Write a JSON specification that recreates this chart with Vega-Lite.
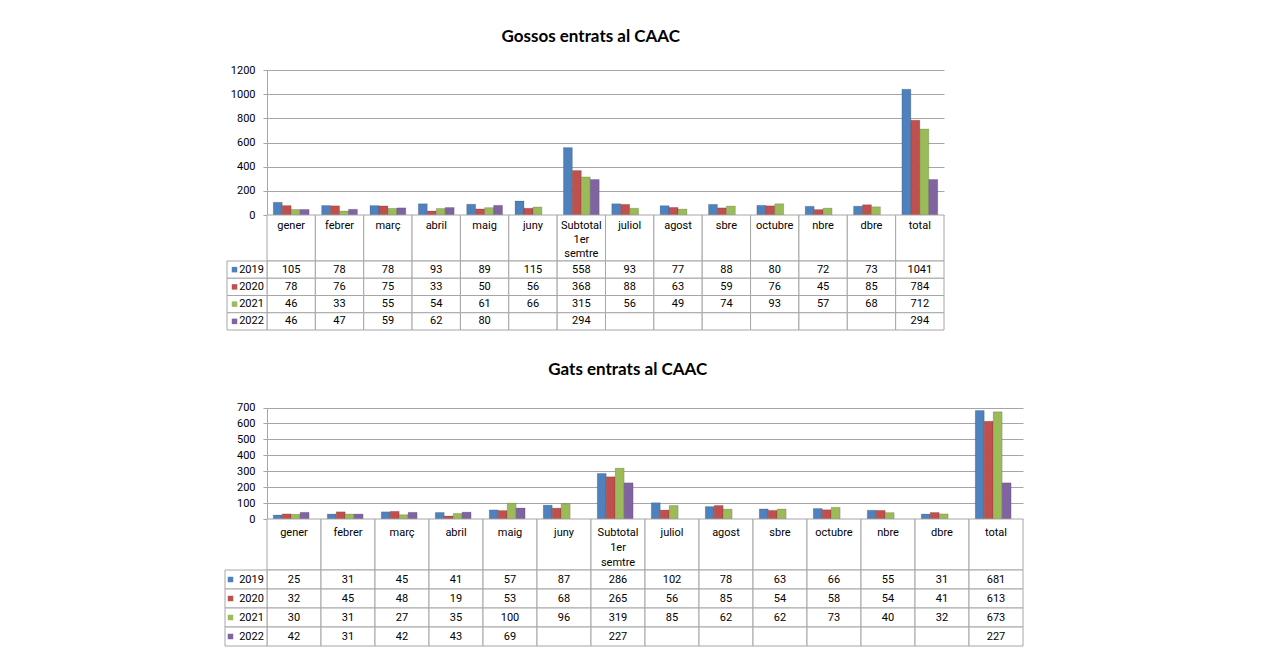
{
  "$schema": "https://vega.github.io/schema/vega-lite/v6.json",
  "background": "white",
  "padding": {"left": 224, "top": 28, "right": 0, "bottom": 0},
  "spacing": 30,
  "config": {"font": "Roboto", "view": {"stroke": null}},
  "datasets": {
    "dogs": [
      {"mes": "gener", "any": "2019", "n": 105}, {"mes": "gener", "any": "2020", "n": 78}, {"mes": "gener", "any": "2021", "n": 46}, {"mes": "gener", "any": "2022", "n": 46},
      {"mes": "febrer", "any": "2019", "n": 78}, {"mes": "febrer", "any": "2020", "n": 76}, {"mes": "febrer", "any": "2021", "n": 33}, {"mes": "febrer", "any": "2022", "n": 47},
      {"mes": "març", "any": "2019", "n": 78}, {"mes": "març", "any": "2020", "n": 75}, {"mes": "març", "any": "2021", "n": 55}, {"mes": "març", "any": "2022", "n": 59},
      {"mes": "abril", "any": "2019", "n": 93}, {"mes": "abril", "any": "2020", "n": 33}, {"mes": "abril", "any": "2021", "n": 54}, {"mes": "abril", "any": "2022", "n": 62},
      {"mes": "maig", "any": "2019", "n": 89}, {"mes": "maig", "any": "2020", "n": 50}, {"mes": "maig", "any": "2021", "n": 61}, {"mes": "maig", "any": "2022", "n": 80},
      {"mes": "juny", "any": "2019", "n": 115}, {"mes": "juny", "any": "2020", "n": 56}, {"mes": "juny", "any": "2021", "n": 66}, {"mes": "juny", "any": "2022", "n": null},
      {"mes": "Subtotal 1er semtre", "any": "2019", "n": 558}, {"mes": "Subtotal 1er semtre", "any": "2020", "n": 368}, {"mes": "Subtotal 1er semtre", "any": "2021", "n": 315}, {"mes": "Subtotal 1er semtre", "any": "2022", "n": 294},
      {"mes": "juliol", "any": "2019", "n": 93}, {"mes": "juliol", "any": "2020", "n": 88}, {"mes": "juliol", "any": "2021", "n": 56}, {"mes": "juliol", "any": "2022", "n": null},
      {"mes": "agost", "any": "2019", "n": 77}, {"mes": "agost", "any": "2020", "n": 63}, {"mes": "agost", "any": "2021", "n": 49}, {"mes": "agost", "any": "2022", "n": null},
      {"mes": "sbre", "any": "2019", "n": 88}, {"mes": "sbre", "any": "2020", "n": 59}, {"mes": "sbre", "any": "2021", "n": 74}, {"mes": "sbre", "any": "2022", "n": null},
      {"mes": "octubre", "any": "2019", "n": 80}, {"mes": "octubre", "any": "2020", "n": 76}, {"mes": "octubre", "any": "2021", "n": 93}, {"mes": "octubre", "any": "2022", "n": null},
      {"mes": "nbre", "any": "2019", "n": 72}, {"mes": "nbre", "any": "2020", "n": 45}, {"mes": "nbre", "any": "2021", "n": 57}, {"mes": "nbre", "any": "2022", "n": null},
      {"mes": "dbre", "any": "2019", "n": 73}, {"mes": "dbre", "any": "2020", "n": 85}, {"mes": "dbre", "any": "2021", "n": 68}, {"mes": "dbre", "any": "2022", "n": null},
      {"mes": "total", "any": "2019", "n": 1041}, {"mes": "total", "any": "2020", "n": 784}, {"mes": "total", "any": "2021", "n": 712}, {"mes": "total", "any": "2022", "n": 294}
    ],
    "cats": [
      {"mes": "gener", "any": "2019", "n": 25}, {"mes": "gener", "any": "2020", "n": 32}, {"mes": "gener", "any": "2021", "n": 30}, {"mes": "gener", "any": "2022", "n": 42},
      {"mes": "febrer", "any": "2019", "n": 31}, {"mes": "febrer", "any": "2020", "n": 45}, {"mes": "febrer", "any": "2021", "n": 31}, {"mes": "febrer", "any": "2022", "n": 31},
      {"mes": "març", "any": "2019", "n": 45}, {"mes": "març", "any": "2020", "n": 48}, {"mes": "març", "any": "2021", "n": 27}, {"mes": "març", "any": "2022", "n": 42},
      {"mes": "abril", "any": "2019", "n": 41}, {"mes": "abril", "any": "2020", "n": 19}, {"mes": "abril", "any": "2021", "n": 35}, {"mes": "abril", "any": "2022", "n": 43},
      {"mes": "maig", "any": "2019", "n": 57}, {"mes": "maig", "any": "2020", "n": 53}, {"mes": "maig", "any": "2021", "n": 100}, {"mes": "maig", "any": "2022", "n": 69},
      {"mes": "juny", "any": "2019", "n": 87}, {"mes": "juny", "any": "2020", "n": 68}, {"mes": "juny", "any": "2021", "n": 96}, {"mes": "juny", "any": "2022", "n": null},
      {"mes": "Subtotal 1er semtre", "any": "2019", "n": 286}, {"mes": "Subtotal 1er semtre", "any": "2020", "n": 265}, {"mes": "Subtotal 1er semtre", "any": "2021", "n": 319}, {"mes": "Subtotal 1er semtre", "any": "2022", "n": 227},
      {"mes": "juliol", "any": "2019", "n": 102}, {"mes": "juliol", "any": "2020", "n": 56}, {"mes": "juliol", "any": "2021", "n": 85}, {"mes": "juliol", "any": "2022", "n": null},
      {"mes": "agost", "any": "2019", "n": 78}, {"mes": "agost", "any": "2020", "n": 85}, {"mes": "agost", "any": "2021", "n": 62}, {"mes": "agost", "any": "2022", "n": null},
      {"mes": "sbre", "any": "2019", "n": 63}, {"mes": "sbre", "any": "2020", "n": 54}, {"mes": "sbre", "any": "2021", "n": 62}, {"mes": "sbre", "any": "2022", "n": null},
      {"mes": "octubre", "any": "2019", "n": 66}, {"mes": "octubre", "any": "2020", "n": 58}, {"mes": "octubre", "any": "2021", "n": 73}, {"mes": "octubre", "any": "2022", "n": null},
      {"mes": "nbre", "any": "2019", "n": 55}, {"mes": "nbre", "any": "2020", "n": 54}, {"mes": "nbre", "any": "2021", "n": 40}, {"mes": "nbre", "any": "2022", "n": null},
      {"mes": "dbre", "any": "2019", "n": 31}, {"mes": "dbre", "any": "2020", "n": 41}, {"mes": "dbre", "any": "2021", "n": 32}, {"mes": "dbre", "any": "2022", "n": null},
      {"mes": "total", "any": "2019", "n": 681}, {"mes": "total", "any": "2020", "n": 613}, {"mes": "total", "any": "2021", "n": 673}, {"mes": "total", "any": "2022", "n": 227}
    ]
  },
  "vconcat": [
    {
      "title": {"text": "Gossos entrats al CAAC", "frame": "bounds", "anchor": "middle", "offset": 18, "font": "Lato", "fontSize": 17, "fontWeight": "bold", "color": "#000"},
      "width": 688,
      "height": 265,
      "data": {"name": "dogs"},
      "resolve": {"scale": {"x": "independent", "y": "independent"}},
      "layer": [
        {
          "transform": [{"filter": "datum.n != null"}],
          "mark": {"type": "bar", "stroke": "#00000030", "strokeWidth": 0.8},
          "encoding": {
            "x": {"field": "mes", "type": "nominal", "scale": {"type": "band", "domain": ["gener","febrer","març","abril","maig","juny","Subtotal 1er semtre","juliol","agost","sbre","octubre","nbre","dbre","total"], "range": [0, 677], "paddingInner": 0, "paddingOuter": 0}, "axis": null},
            "xOffset": {"field": "any", "type": "nominal", "scale": {"domain": ["2019","2020","2021","2022"], "paddingInner": 0, "paddingOuter": 0.7}},
            "y": {"field": "n", "type": "quantitative", "scale": {"domain": [0, 1200], "range": [150, 5], "nice": false}, "axis": {"values": [0,200,400,600,800,1000,1200], "format": "d", "title": null, "grid": true, "gridColor": "#a6a6a6", "domainColor": "#a6a6a6", "tickColor": "#a6a6a6", "tickSize": 4, "labelPadding": 8, "labelFont": "Roboto", "labelFontSize": 11, "labelColor": "#000"}},
            "color": {"field": "any", "type": "nominal", "scale": {"domain": ["2019","2020","2021","2022"], "range": ["#4F81BD","#C0504D","#9BBB59","#8064A2"]}, "legend": null}
          }
        },
        {
          "transform": [{"filter": "datum.any == '2019'"}],
          "mark": {"type": "rect", "fill": "white", "stroke": "#a6a6a6", "strokeWidth": 1},
          "encoding": {
            "x": {"field": "mes", "type": "nominal", "scale": {"type": "band", "domain": ["gener","febrer","març","abril","maig","juny","Subtotal 1er semtre","juliol","agost","sbre","octubre","nbre","dbre","total"], "range": [0, 677], "paddingInner": 0, "paddingOuter": 0}, "axis": null},
            "y": {"datum": "h", "type": "nominal", "scale": {"type": "band", "domain": ["h"], "range": [150, 196], "paddingInner": 0, "paddingOuter": 0}, "axis": null}
          }
        },
        {
          "transform": [{"filter": "datum.any == '2019'"}],
          "mark": {"type": "text", "baseline": "top", "lineBreak": " ", "lineHeight": 14, "fontSize": 11, "color": "#000"},
          "encoding": {
            "x": {"field": "mes", "type": "nominal", "scale": {"type": "band", "domain": ["gener","febrer","març","abril","maig","juny","Subtotal 1er semtre","juliol","agost","sbre","octubre","nbre","dbre","total"], "range": [0, 677], "paddingInner": 0, "paddingOuter": 0}, "axis": null},
            "y": {"datum": "h", "type": "nominal", "scale": {"type": "band", "domain": ["h"], "range": [152, 158], "paddingInner": 0, "paddingOuter": 0}, "axis": null},
            "text": {"field": "mes", "type": "nominal"}
          }
        },
        {
          "mark": {"type": "rect", "fill": "white", "stroke": "#a6a6a6", "strokeWidth": 1},
          "encoding": {
            "x": {"field": "mes", "type": "nominal", "scale": {"type": "band", "domain": ["gener","febrer","març","abril","maig","juny","Subtotal 1er semtre","juliol","agost","sbre","octubre","nbre","dbre","total"], "range": [0, 677], "paddingInner": 0, "paddingOuter": 0}, "axis": null},
            "y": {"field": "any", "type": "nominal", "scale": {"type": "band", "domain": ["2019","2020","2021","2022"], "range": [196, 265], "paddingInner": 0, "paddingOuter": 0}, "axis": null}
          }
        },
        {
          "transform": [{"filter": "datum.n != null"}],
          "mark": {"type": "text", "baseline": "middle", "fontSize": 11, "color": "#000"},
          "encoding": {
            "x": {"field": "mes", "type": "nominal", "scale": {"type": "band", "domain": ["gener","febrer","març","abril","maig","juny","Subtotal 1er semtre","juliol","agost","sbre","octubre","nbre","dbre","total"], "range": [0, 677], "paddingInner": 0, "paddingOuter": 0}, "axis": null},
            "y": {"field": "any", "type": "nominal", "scale": {"type": "band", "domain": ["2019","2020","2021","2022"], "range": [196, 265], "paddingInner": 0, "paddingOuter": 0}, "axis": null},
            "text": {"field": "n", "type": "quantitative", "format": "d"}
          }
        },
        {
          "transform": [{"filter": "datum.mes == 'gener'"}],
          "mark": {"type": "rect", "fill": "white", "stroke": "#a6a6a6", "strokeWidth": 1},
          "encoding": {
            "x": {"datum": "h", "type": "nominal", "scale": {"type": "band", "domain": ["h"], "range": [-40, 0], "paddingInner": 0, "paddingOuter": 0}, "axis": null},
            "y": {"field": "any", "type": "nominal", "scale": {"type": "band", "domain": ["2019","2020","2021","2022"], "range": [196, 265], "paddingInner": 0, "paddingOuter": 0}, "axis": null}
          }
        },
        {
          "transform": [{"filter": "datum.mes == 'gener'"}],
          "mark": {"type": "text", "baseline": "middle", "fontSize": 11, "color": "#000"},
          "encoding": {
            "x": {"datum": "h", "type": "nominal", "scale": {"type": "band", "domain": ["h"], "range": [-18, -13], "paddingInner": 0, "paddingOuter": 0}, "axis": null},
            "y": {"field": "any", "type": "nominal", "scale": {"type": "band", "domain": ["2019","2020","2021","2022"], "range": [196, 265], "paddingInner": 0, "paddingOuter": 0}, "axis": null},
            "text": {"field": "any", "type": "nominal"}
          }
        },
        {
          "transform": [{"filter": "datum.mes == 'gener'"}],
          "mark": {"type": "point", "shape": "square", "filled": true, "size": 30, "opacity": 1},
          "encoding": {
            "x": {"datum": "h", "type": "nominal", "scale": {"type": "band", "domain": ["h"], "range": [-35, -30], "paddingInner": 0, "paddingOuter": 0}, "axis": null},
            "y": {"field": "any", "type": "nominal", "scale": {"type": "band", "domain": ["2019","2020","2021","2022"], "range": [196, 265], "paddingInner": 0, "paddingOuter": 0}, "axis": null},
            "color": {"field": "any", "type": "nominal", "legend": null}
          }
        }
      ]
    },
    {
      "title": {"text": "Gats entrats al CAAC", "frame": "bounds", "anchor": "middle", "offset": 21, "font": "Lato", "fontSize": 17, "fontWeight": "bold", "color": "#000"},
      "width": 764,
      "height": 246,
      "data": {"name": "cats"},
      "resolve": {"scale": {"x": "independent", "y": "independent"}},
      "layer": [
        {
          "transform": [{"filter": "datum.n != null"}],
          "mark": {"type": "bar", "stroke": "#00000030", "strokeWidth": 0.8},
          "encoding": {
            "x": {"field": "mes", "type": "nominal", "scale": {"type": "band", "domain": ["gener","febrer","març","abril","maig","juny","Subtotal 1er semtre","juliol","agost","sbre","octubre","nbre","dbre","total"], "range": [0, 756], "paddingInner": 0, "paddingOuter": 0}, "axis": null},
            "xOffset": {"field": "any", "type": "nominal", "scale": {"domain": ["2019","2020","2021","2022"], "paddingInner": 0, "paddingOuter": 0.7}},
            "y": {"field": "n", "type": "quantitative", "scale": {"domain": [0, 700], "range": [119, 7.5], "nice": false}, "axis": {"values": [0,100,200,300,400,500,600,700], "format": "d", "title": null, "grid": true, "gridColor": "#a6a6a6", "domainColor": "#a6a6a6", "tickColor": "#a6a6a6", "tickSize": 4, "labelPadding": 8, "labelFont": "Roboto", "labelFontSize": 11, "labelColor": "#000"}},
            "color": {"field": "any", "type": "nominal", "scale": {"domain": ["2019","2020","2021","2022"], "range": ["#4F81BD","#C0504D","#9BBB59","#8064A2"]}, "legend": null}
          }
        },
        {
          "transform": [{"filter": "datum.any == '2019'"}],
          "mark": {"type": "rect", "fill": "white", "stroke": "#a6a6a6", "strokeWidth": 1},
          "encoding": {
            "x": {"field": "mes", "type": "nominal", "scale": {"type": "band", "domain": ["gener","febrer","març","abril","maig","juny","Subtotal 1er semtre","juliol","agost","sbre","octubre","nbre","dbre","total"], "range": [0, 756], "paddingInner": 0, "paddingOuter": 0}, "axis": null},
            "y": {"datum": "h", "type": "nominal", "scale": {"type": "band", "domain": ["h"], "range": [119, 170], "paddingInner": 0, "paddingOuter": 0}, "axis": null}
          }
        },
        {
          "transform": [{"filter": "datum.any == '2019'"}],
          "mark": {"type": "text", "baseline": "top", "lineBreak": " ", "lineHeight": 15, "fontSize": 11, "color": "#000"},
          "encoding": {
            "x": {"field": "mes", "type": "nominal", "scale": {"type": "band", "domain": ["gener","febrer","març","abril","maig","juny","Subtotal 1er semtre","juliol","agost","sbre","octubre","nbre","dbre","total"], "range": [0, 756], "paddingInner": 0, "paddingOuter": 0}, "axis": null},
            "y": {"datum": "h", "type": "nominal", "scale": {"type": "band", "domain": ["h"], "range": [124, 130], "paddingInner": 0, "paddingOuter": 0}, "axis": null},
            "text": {"field": "mes", "type": "nominal"}
          }
        },
        {
          "mark": {"type": "rect", "fill": "white", "stroke": "#a6a6a6", "strokeWidth": 1},
          "encoding": {
            "x": {"field": "mes", "type": "nominal", "scale": {"type": "band", "domain": ["gener","febrer","març","abril","maig","juny","Subtotal 1er semtre","juliol","agost","sbre","octubre","nbre","dbre","total"], "range": [0, 756], "paddingInner": 0, "paddingOuter": 0}, "axis": null},
            "y": {"field": "any", "type": "nominal", "scale": {"type": "band", "domain": ["2019","2020","2021","2022"], "range": [170, 246], "paddingInner": 0, "paddingOuter": 0}, "axis": null}
          }
        },
        {
          "transform": [{"filter": "datum.n != null"}],
          "mark": {"type": "text", "baseline": "middle", "fontSize": 11, "color": "#000"},
          "encoding": {
            "x": {"field": "mes", "type": "nominal", "scale": {"type": "band", "domain": ["gener","febrer","març","abril","maig","juny","Subtotal 1er semtre","juliol","agost","sbre","octubre","nbre","dbre","total"], "range": [0, 756], "paddingInner": 0, "paddingOuter": 0}, "axis": null},
            "y": {"field": "any", "type": "nominal", "scale": {"type": "band", "domain": ["2019","2020","2021","2022"], "range": [170, 246], "paddingInner": 0, "paddingOuter": 0}, "axis": null},
            "text": {"field": "n", "type": "quantitative", "format": "d"}
          }
        },
        {
          "transform": [{"filter": "datum.mes == 'gener'"}],
          "mark": {"type": "rect", "fill": "white", "stroke": "#a6a6a6", "strokeWidth": 1},
          "encoding": {
            "x": {"datum": "h", "type": "nominal", "scale": {"type": "band", "domain": ["h"], "range": [-42, 0], "paddingInner": 0, "paddingOuter": 0}, "axis": null},
            "y": {"field": "any", "type": "nominal", "scale": {"type": "band", "domain": ["2019","2020","2021","2022"], "range": [170, 246], "paddingInner": 0, "paddingOuter": 0}, "axis": null}
          }
        },
        {
          "transform": [{"filter": "datum.mes == 'gener'"}],
          "mark": {"type": "text", "baseline": "middle", "fontSize": 11, "color": "#000"},
          "encoding": {
            "x": {"datum": "h", "type": "nominal", "scale": {"type": "band", "domain": ["h"], "range": [-18, -13], "paddingInner": 0, "paddingOuter": 0}, "axis": null},
            "y": {"field": "any", "type": "nominal", "scale": {"type": "band", "domain": ["2019","2020","2021","2022"], "range": [170, 246], "paddingInner": 0, "paddingOuter": 0}, "axis": null},
            "text": {"field": "any", "type": "nominal"}
          }
        },
        {
          "transform": [{"filter": "datum.mes == 'gener'"}],
          "mark": {"type": "point", "shape": "square", "filled": true, "size": 30, "opacity": 1},
          "encoding": {
            "x": {"datum": "h", "type": "nominal", "scale": {"type": "band", "domain": ["h"], "range": [-39, -34], "paddingInner": 0, "paddingOuter": 0}, "axis": null},
            "y": {"field": "any", "type": "nominal", "scale": {"type": "band", "domain": ["2019","2020","2021","2022"], "range": [170, 246], "paddingInner": 0, "paddingOuter": 0}, "axis": null},
            "color": {"field": "any", "type": "nominal", "legend": null}
          }
        }
      ]
    }
  ]
}
